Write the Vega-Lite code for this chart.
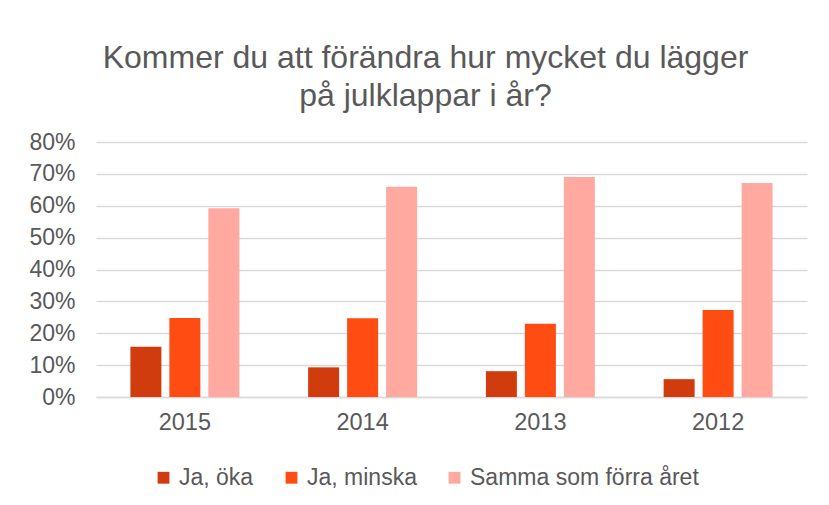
{
  "$schema": "https://vega.github.io/schema/vega-lite/v6.json",
  "autosize": "none",
  "width": 711,
  "height": 255,
  "padding": {"left": 96, "top": 142, "right": 22, "bottom": 108},
  "background": "white",
  "title": {
    "text": ["Kommer du att förändra hur mycket du lägger", "på julklappar i år?"],
    "anchor": "middle",
    "dx": -26,
    "offset": 18,
    "fontSize": 32,
    "font": "Liberation Sans",
    "fontWeight": "normal",
    "color": "#595959",
    "lineHeight": 38
  },
  "data": {
    "values": [
      {"year": "2015", "series": "Ja, öka", "value": 0.158},
      {"year": "2015", "series": "Ja, minska", "value": 0.248},
      {"year": "2015", "series": "Samma som förra året", "value": 0.592},
      {"year": "2014", "series": "Ja, öka", "value": 0.093},
      {"year": "2014", "series": "Ja, minska", "value": 0.247},
      {"year": "2014", "series": "Samma som förra året", "value": 0.660},
      {"year": "2013", "series": "Ja, öka", "value": 0.081},
      {"year": "2013", "series": "Ja, minska", "value": 0.230},
      {"year": "2013", "series": "Samma som förra året", "value": 0.690},
      {"year": "2012", "series": "Ja, öka", "value": 0.056},
      {"year": "2012", "series": "Ja, minska", "value": 0.273},
      {"year": "2012", "series": "Samma som förra året", "value": 0.671}
    ]
  },
  "mark": {"type": "bar"},
  "encoding": {
    "x": {
      "field": "year",
      "type": "nominal",
      "sort": null,
      "title": null,
      "scale": {"paddingInner": 0.387, "paddingOuter": 0.1935},
      "axis": {
        "labelAngle": 0,
        "labelFontSize": 23.5,
        "labelFont": "Liberation Sans",
        "labelColor": "#595959",
        "labelPadding": 13,
        "ticks": false,
        "domainColor": "#D9D9D9",
        "domainWidth": 1.5
      }
    },
    "xOffset": {
      "field": "series",
      "type": "nominal",
      "sort": ["Ja, öka", "Ja, minska", "Samma som förra året"],
      "scale": {"paddingInner": 0.205, "paddingOuter": 0}
    },
    "y": {
      "field": "value",
      "type": "quantitative",
      "title": null,
      "scale": {"domain": [0, 0.8], "nice": false},
      "axis": {
        "values": [0, 0.1, 0.2, 0.3, 0.4, 0.5, 0.6, 0.7, 0.8],
        "format": ".0%",
        "labelFontSize": 23,
        "labelFont": "Liberation Sans",
        "labelColor": "#595959",
        "labelPadding": 21,
        "ticks": false,
        "domain": false,
        "gridColor": "#D9D9D9",
        "gridWidth": 1.5
      }
    },
    "color": {
      "field": "series",
      "type": "nominal",
      "sort": ["Ja, öka", "Ja, minska", "Samma som förra året"],
      "scale": {
        "domain": ["Ja, öka", "Ja, minska", "Samma som förra året"],
        "range": ["#D13C0E", "#FF4C13", "#FFA9A0"]
      },
      "legend": {
        "title": null,
        "orient": "none",
        "direction": "horizontal",
        "legendX": 56,
        "legendY": 324,
        "symbolType": "square",
        "symbolSize": 140,
        "symbolStrokeWidth": 0,
        "labelFontSize": 23,
        "labelFont": "Liberation Sans",
        "labelColor": "#595959",
        "labelOffset": 4,
        "labelLimit": 0,
        "columnPadding": 26
      }
    }
  },
  "config": {
    "view": {"stroke": null}
  }
}
